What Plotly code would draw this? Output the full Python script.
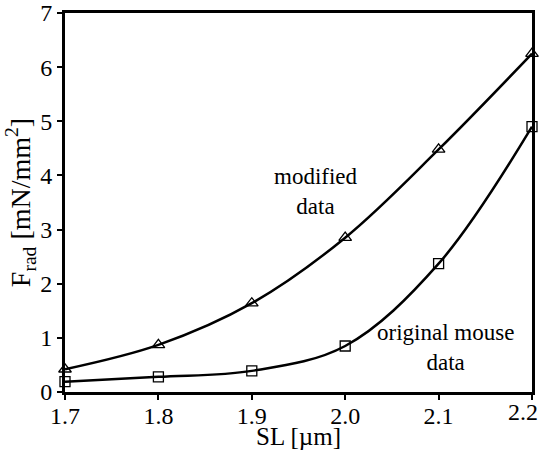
import plotly.graph_objects as go

sl = [1.7, 1.8, 1.9, 2.0, 2.1, 2.2]
modified = [0.42, 0.87, 1.64, 2.85, 4.48, 6.25]
original = [0.19, 0.28, 0.39, 0.85, 2.37, 4.90]

x_ticks = [1.7, 1.8, 1.9, 2.0, 2.1, 2.2]
x_labels = ["1.7", "1.8", "1.9", "2.0", "2.1", "2.2"]
y_ticks = [0, 1, 2, 3, 4, 5, 6, 7]

FONT = "Liberation Serif, Times New Roman, serif"
TICKFONT = dict(family=FONT, size=24, color="black")

fig = go.Figure()
fig.add_trace(go.Scatter(
    x=sl, y=modified, mode="lines+markers", line=dict(color="black", width=2.5, shape="spline"),
    marker=dict(symbol="triangle-up-open", size=11, color="black", line=dict(width=1.3)),
    cliponaxis=False, showlegend=False))
fig.add_trace(go.Scatter(
    x=sl, y=original, mode="lines+markers", line=dict(color="black", width=2.5, shape="spline"),
    marker=dict(symbol="square-open", size=10, color="black", line=dict(width=1.3)),
    cliponaxis=False, showlegend=False))

fig.add_annotation(x=1.969, y=3.7, text="modified<br>data", showarrow=False,
                   font=dict(family=FONT, size=23, color="black"), align="center")
fig.add_annotation(x=2.107, y=0.83, text="original mouse<br>data", showarrow=False,
                   font=dict(family=FONT, size=23, color="black"), align="center")

# last x tick label sits flush against the right edge in the reference
fig.add_annotation(x=x_ticks[-1], xref="x", xanchor="right", xshift=8,
                   y=0, yref="paper", yanchor="top", yshift=-5,
                   text=x_labels[-1], showarrow=False, font=TICKFONT)

# x-axis title
fig.add_annotation(x=0.5, xref="paper", y=-0.117, yref="paper", yanchor="middle",
                   text="SL [µm]", showarrow=False,
                   font=dict(family=FONT, size=25, color="black"))

axis_common = dict(showline=True, linecolor="black", linewidth=3, mirror=True,
                   ticks="outside", ticklen=5, tickwidth=2, tickcolor="black",
                   showgrid=False, zeroline=False, automargin=False,
                   tickfont=TICKFONT)

fig.update_xaxes(range=[1.7, 2.2], tickvals=x_ticks, ticktext=x_labels[:-1] + [""],
                 ticklabelstandoff=-5, **axis_common)
fig.update_yaxes(range=[0, 7], tickvals=y_ticks,
                 title=dict(text="F<sub>rad</sub> [mN/mm<sup>2</sup>]",
                            font=dict(family=FONT, size=28, color="black"), standoff=2),
                 **axis_common)

fig.update_layout(width=540, height=452, margin=dict(l=65, r=8, t=13, b=60),
                  plot_bgcolor="white", paper_bgcolor="white")

fig.write_html("out.html")
